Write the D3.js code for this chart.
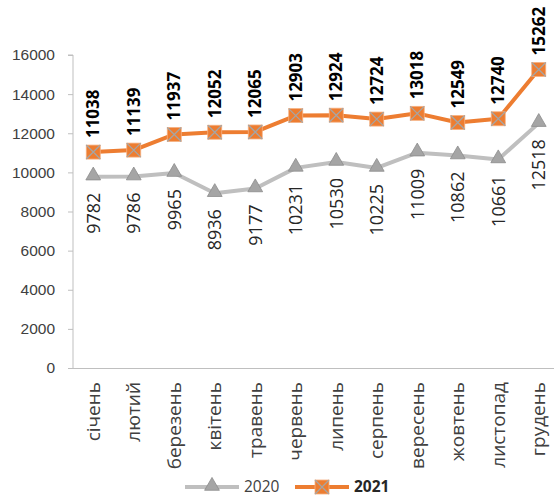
<!DOCTYPE html>
<html>
<head>
<meta charset="utf-8">
<script src="https://cdn.jsdelivr.net/npm/d3@7"></script>
<style>
  body { margin: 0; background: #fff; }
  svg { display: block; font-family: "Open Sans", "Noto Sans", sans-serif; }
</style>
</head>
<body>
<svg id="chart" width="554" height="498"></svg>
<script>
// months, values
var months = ["січень", "лютий", "березень", "квітень", "травень", "червень",
  "липень", "серпень", "вересень", "жовтень", "листопад", "грудень"];
var values2020 = [9782, 9786, 9965, 8936, 9177, 10231, 10530, 10225, 11009, 10862, 10661, 12518];
var values2021 = [11038, 11139, 11937, 12052, 12065, 12903, 12924, 12724, 13018, 12549, 12740, 15262];
var yTicks = [0, 2000, 4000, 6000, 8000, 10000, 12000, 14000, 16000];

var svg = d3.select("#chart");
var plotLeft = 73, plotTop = 55, plotBottom = 368;

var x = d3.scaleBand().domain(months).range([plotLeft, plotLeft + 12 * 40.5]);
var y = d3.scaleLinear().domain([0, 16000]).range([plotBottom, plotTop]);
var cx = function(d, i) { return x(months[i]) + x.bandwidth() / 2; };

// y axis
var yAxis = svg.append("g")
  .attr("transform", `translate(${plotLeft},0)`)
  .call(d3.axisLeft(y).tickValues(yTicks).tickSize(5).tickPadding(13).tickFormat(d3.format("d")));
yAxis.select(".domain").attr("stroke", "#bfbfbf").attr("d", `M-5,${plotTop}H0V${plotBottom}`);
yAxis.selectAll(".tick line").attr("stroke", "#bfbfbf");
yAxis.selectAll(".tick text").attr("fill", "#404040").style("font-size", "15.5px");

// x axis line
svg.append("line")
  .attr("x1", plotLeft).attr("x2", 554)
  .attr("y1", plotBottom + 0.5).attr("y2", plotBottom + 0.5)
  .attr("stroke", "#bfbfbf").attr("stroke-width", 1);

// month labels
svg.selectAll("text.month").data(months).enter().append("text")
  .attr("class", "month")
  .attr("transform", function(d, i) { return `translate(${cx(d, i)},382) rotate(-90)`; })
  .attr("dy", "0.35em")
  .attr("text-anchor", "end")
  .attr("fill", "#404040")
  .style("font-size", "19px")
  .text(function(d) { return d; });

var line = d3.line().x(cx).y(function(d) { return y(d); });

// 2020
svg.append("path").datum(values2020)
  .attr("d", line).attr("fill", "none")
  .attr("stroke", "#bfbfbf").attr("stroke-width", 4).attr("stroke-linejoin", "round");

var tri = d3.symbol().type(d3.symbolTriangle).size(95);
svg.selectAll("path.m2020").data(values2020).enter().append("path")
  .attr("class", "m2020")
  .attr("d", tri)
  .attr("transform", function(d, i) { return `translate(${cx(d, i)},${y(d) - 1})`; })
  .attr("fill", "#a5a5a5").attr("stroke", "#8c8c8c").attr("stroke-width", 0.8);

svg.selectAll("text.l2020").data(values2020).enter().append("text")
  .attr("class", "l2020")
  .attr("transform", function(d, i) { return `translate(${cx(d, i)},${y(d) + 16}) rotate(-90)`; })
  .attr("dy", "0.35em")
  .attr("text-anchor", "end")
  .attr("fill", "#262626")
  .style("font-size", "18px")
  .text(function(d) { return d; });

// 2021
svg.append("path").datum(values2021)
  .attr("d", line).attr("fill", "none")
  .attr("stroke", "#ed7d31").attr("stroke-width", 4).attr("stroke-linejoin", "round");

var sq = 7;
var m21 = svg.selectAll("g.m2021").data(values2021).enter().append("g")
  .attr("class", "m2021")
  .attr("transform", function(d, i) { return `translate(${cx(d, i)},${y(d)})`; });
m21.append("rect")
  .attr("x", -sq).attr("y", -sq).attr("width", sq * 2).attr("height", sq * 2)
  .attr("fill", "#ed7d31").attr("stroke", "#f4b183").attr("stroke-width", 0.8);
m21.append("path")
  .attr("d", `M${-sq},${-sq}L${sq},${sq}M${sq},${-sq}L${-sq},${sq}`)
  .attr("stroke", "#a5a5a5").attr("stroke-width", 1.3);

svg.selectAll("text.l2021").data(values2021).enter().append("text")
  .attr("class", "l2021")
  .attr("transform", function(d, i) { return `translate(${cx(d, i)},${y(d) - 14}) rotate(-90)`; })
  .attr("dy", "0.35em")
  .attr("text-anchor", "start")
  .attr("fill", "#000")
  .style("font-size", "17px")
  .style("font-weight", "bold")
  .text(function(d) { return d; });

// legend
var ly = 487;
var lg = svg.append("g");
lg.append("line").attr("x1", 185).attr("x2", 239).attr("y1", ly).attr("y2", ly)
  .attr("stroke", "#bfbfbf").attr("stroke-width", 4);
lg.append("path").attr("d", tri).attr("transform", `translate(212,${ly - 1})`)
  .attr("fill", "#a5a5a5").attr("stroke", "#8c8c8c").attr("stroke-width", 0.8);
lg.append("text").attr("x", 244).attr("y", ly).attr("dy", "0.35em")
  .attr("fill", "#404040").style("font-size", "15.5px").text("2020");

lg.append("line").attr("x1", 295).attr("x2", 349).attr("y1", ly).attr("y2", ly)
  .attr("stroke", "#ed7d31").attr("stroke-width", 4);
var lm = lg.append("g").attr("transform", `translate(322,${ly})`);
lm.append("rect").attr("x", -sq).attr("y", -sq).attr("width", sq * 2).attr("height", sq * 2)
  .attr("fill", "#ed7d31").attr("stroke", "#f4b183").attr("stroke-width", 0.8);
lm.append("path").attr("d", `M${-sq},${-sq}L${sq},${sq}M${sq},${-sq}L${-sq},${sq}`)
  .attr("stroke", "#a5a5a5").attr("stroke-width", 1.3);
lg.append("text").attr("x", 354).attr("y", ly).attr("dy", "0.35em")
  .attr("fill", "#262626").style("font-size", "15.5px").style("font-weight", "bold").text("2021");
</script>
</body>
</html>
